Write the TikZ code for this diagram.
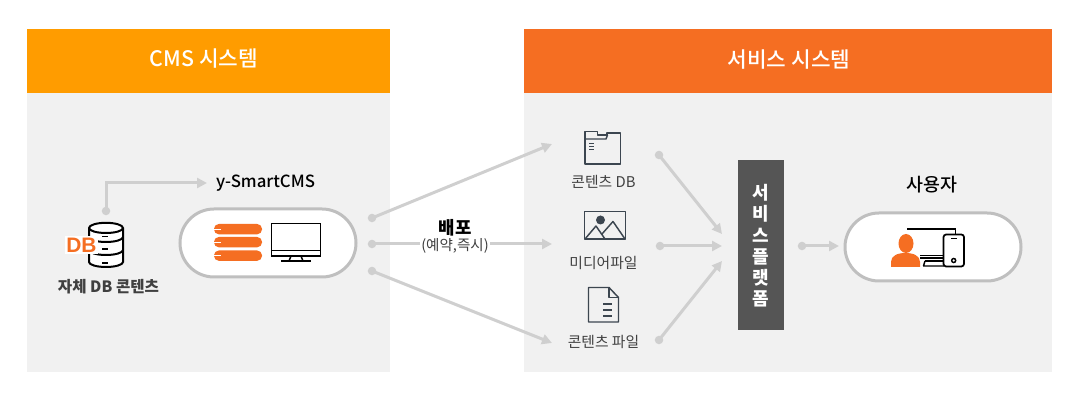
\documentclass[tikz,border=0pt]{standalone}
\usepackage{fontspec}
\setmainfont{Noto Sans CJK KR}
\newfontfamily\medfont{Noto Sans CJK KR Medium}
\newfontfamily\dbfont{Liberation Sans}[BoldFont={Liberation Sans Bold}]
\usetikzlibrary{arrows.meta,calc}
\definecolor{panel}{HTML}{F1F1F1}
\definecolor{cmsorange}{HTML}{FF9C00}
\definecolor{svcorange}{HTML}{F56E22}
\definecolor{iconorange}{HTML}{F56E22}
\definecolor{conn}{HTML}{CFCFCF}
\definecolor{pillline}{HTML}{BFBFBF}
\definecolor{darkbox}{HTML}{555555}
\definecolor{icondark}{HTML}{3C4650}
\definecolor{labeltext}{HTML}{404040}
\tikzset{
  x=0.75pt,y=-0.75pt,
  head/.style={font=\medfont\fontsize{16}{18}\selectfont,text=white},
  pill/.style={draw=pillline,line width=2.25pt,fill=white,rounded corners=25.5pt},
  conline/.style={draw=conn,line width=2.25pt,-{Triangle[length=7.5pt,width=7.5pt]},shorten >=0pt},
  condot/.style={circle,fill=conn,inner sep=0pt,minimum size=6.4pt},
  lab/.style={font=\fontsize{11.1}{12}\selectfont,text=labeltext,inner sep=0pt},
  blab/.style={font=\medfont\fontsize{12.6}{14}\selectfont,text=black,inner sep=0pt},
  vtext/.style={font=\fontsize{13.5}{16}\selectfont\bfseries,text=white,inner sep=0pt},
  thinicon/.style={draw=icondark,line width=1.1pt,line join=round},
  blackicon/.style={draw=black,line width=1.1pt},
  bar/.style={fill=iconorange,rounded corners=3.6pt},
}
\begin{document}
\begin{tikzpicture}
\useasboundingbox (0,0) rectangle (1083,402);
% panels
\fill[panel] (27,93) rectangle (390,372);
\fill[panel] (524,93) rectangle (1052,372);
\fill[cmsorange] (27,29) rectangle (390,93);
\fill[svcorange] (524,29) rectangle (1052,93);
\node[head] (cmshead) at (204,59) {CMS 시스템};
\node[head] (svchead) at (789,59.5) {서비스 시스템};

% pills
\draw[pill] (180,209) rectangle (356,277);
\draw[pill] (845,213) rectangle (1021,281);

% server bars
\foreach \yy in {224,237,250.5}{
  \fill[bar] (214,\yy) rectangle (262,\yy+10.3);
  \draw[white,line width=0.7pt] (214,\yy+5) -- (221,\yy+5);
}
% monitor
\draw[blackicon,line width=1.3pt] (271.5,223.5) rectangle (320.5,256);
\draw[blackicon] (271.5,250.5) -- (320.5,250.5);
\draw[blackicon] (291,256) -- (289,261) (301,256) -- (303,261);
\draw[blackicon] (281,261) -- (311,261);

% DB cylinder
\begin{scope}[draw=black,line width=1.5pt]
  \draw[fill=white] (89,228) arc[start angle=180,end angle=360,x radius=17,y radius=5.2]
     -- (123,262) arc[start angle=0,end angle=180,x radius=17,y radius=5] -- cycle;
  \draw (89,228) arc[start angle=180,end angle=0,x radius=17,y radius=5];
  \draw (89,237) arc[start angle=180,end angle=0,x radius=17,y radius=5];
  \draw (89,250) arc[start angle=180,end angle=0,x radius=17,y radius=5];
  \draw[line width=1.3pt] (102,236.5) -- (108,236.5) (102,249) -- (108,249) (102,262.7) -- (108,262.7);
\end{scope}
\fill[white] (65,236.5) rectangle (97.5,254.5);
\node[font=\dbfont\bfseries\fontsize{15.7}{16}\selectfont,text=iconorange,inner sep=0pt] (dbmark) at (81.5,245.5) {DB};

% labels left
\node[blab] (ysmart) at (265.5,183) {y-SmartCMS};
\node[lab,font=\bfseries\fontsize{11.7}{12}\selectfont] (selfdb) at (108.5,287) {자체 DB 콘텐츠};

% left elbow connector
\node[condot] (d0) at (106,211) {};
\coordinate (d0end) at (207,183);
\draw[conline] (d0.center) |- (d0end);

% distribution connectors
\node[condot] (l1) at (372,218) {};
\node[condot] (l2) at (372,244) {};
\node[condot] (l3) at (372,271) {};
\coordinate (t1) at (552,144);
\coordinate (t2) at (552,244);
\coordinate (t3) at (552,343);
\draw[conline] (l1.center) -- (t1);
\draw[conline] (l2.center) -- (t2);
\draw[conline] (l3.center) -- (t3);
\node[font=\fontsize{13.4}{14}\selectfont\bfseries,text=black,inner sep=0pt] (bp) at (455,228) {배포};
\node[fill=white,inner sep=1pt,font=\fontsize{10.9}{11}\selectfont,text=labeltext] (bp2) at (455,246) {(예약,즉시)};

% folder icon
\draw[thinicon] (585,164) -- (585,131.5) -- (597.5,131.5) -- (597.5,135) -- (607,135) -- (607,133) -- (620.5,133) -- (620.5,164) -- cycle;
\draw[thinicon] (585,139) -- (606,139) -- (607.5,135);
\draw[thinicon,line width=0.8pt] (589,143.5) -- (594,143.5) (589,146.5) -- (594,146.5) (589,149.5) -- (594,149.5);
% image icon
\draw[thinicon] (584.5,211.5) rectangle (625.5,239);
\fill[icondark] (600.5,220) circle (4.5);
\draw[thinicon] (585,239) -- (596,226) -- (605,239) (602,234) -- (613,221.5) -- (625,239);
% doc icon
\draw[thinicon] (588.5,287.5) -- (609,287.5) -- (618.5,297.5) -- (618.5,322) -- (588.5,322) -- cycle;
\draw[thinicon] (609,287.5) -- (609,297.5) -- (618.5,297.5);
\draw[thinicon,line width=0.9pt] (603,304) -- (612,304) (603,310) -- (612,310) (603,316) -- (612,316);

\node[lab] (lb1) at (603.5,182) {콘텐츠 DB};
\node[lab] (lb2) at (603.5,262.5) {미디어파일};
\node[lab] (lb3) at (603.5,341.5) {콘텐츠 파일};

% connectors to platform
\node[condot] (r1) at (659,155) {};
\node[condot] (r2) at (660,246) {};
\node[condot] (r3) at (659,340) {};
\coordinate (p1) at (722,234);
\coordinate (p2) at (722,246);
\coordinate (p3) at (722,261);
\draw[conline] (r1.center) -- (p1);
\draw[conline] (r2.center) -- (p2);
\draw[conline] (r3.center) -- (p3);

% platform box
\fill[darkbox] (738,160) rectangle (784,330);
\node[vtext] (v1) at (761,193) {서};
\node[vtext] (v2) at (761,214) {비};
\node[vtext] (v3) at (761,235.5) {스};
\node[vtext] (v4) at (761,257) {플};
\node[vtext] (v5) at (761,278) {랫};
\node[vtext] (v6) at (761,299) {폼};

% to user
\node[condot] (u0) at (802,246) {};
\coordinate (u1) at (839,246);
\draw[conline] (u0.center) -- (u1);
\node[font=\medfont\fontsize{13.8}{14}\selectfont,text=black,inner sep=0pt] (userlab) at (932,185) {사용자};

% user icon
\draw[black,line width=1.1pt] (907,228.8) -- (955.5,228.8) -- (955.5,234.5);
\draw[black,line width=1.1pt] (920,255.5) -- (944,255.5) (920,258) -- (944,258);
\draw[black,line width=1.1pt] (925,261) -- (923.5,266) (923,266) -- (944,266);
\draw[black,line width=1.1pt] (925,261) -- (944,261);
\fill[iconorange] (906,243.5) ellipse [x radius=7.5,y radius=9.5];
\fill[iconorange] (891,267) -- (891,262) .. controls (891,256) and (897,253) .. (905.5,253) .. controls (914,253) and (920,256) .. (920,262) -- (920,267) -- cycle;
\draw[black,line width=1.3pt,fill=white,rounded corners=2pt] (943.5,234.5) rectangle (964,266.5);
\draw[black,line width=1.1pt] (951,238.5) -- (957,238.5);
\draw[black,line width=1.1pt] (953.7,260.5) circle (2);
\end{tikzpicture}
\end{document}
